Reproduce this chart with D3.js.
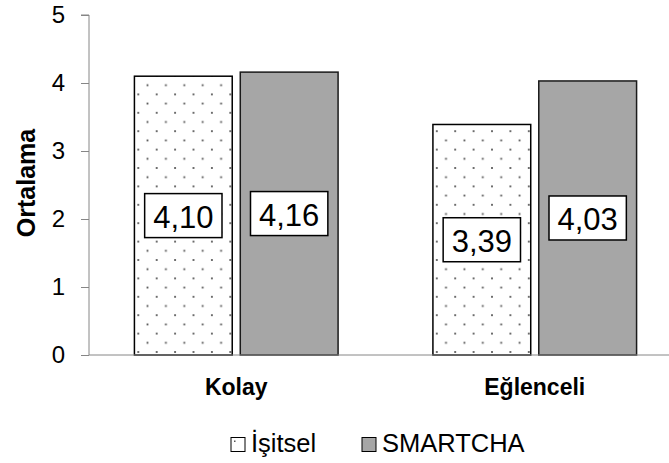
<!DOCTYPE html>
<html>
<head>
<meta charset="utf-8">
<script src="https://cdn.jsdelivr.net/npm/d3@7"></script>
<style>
  html, body { margin: 0; padding: 0; background: #fff; }
  svg { display: block; font-family: "Liberation Sans", Arial, sans-serif; }
</style>
</head>
<body>
<svg id="chart" width="669" height="463"></svg>
<script>
// Chart data
const categories = ["Kolay", "Eğlenceli"];
const seriesNames = ["İşitsel", "SMARTCHA"];
const isitselValues = [4.10, 3.39];
const smartchaValues = [4.16, 4.03];
const yTicks = [0, 1, 2, 3, 4, 5];
const yLabel = "Ortalama";

const series = [isitselValues, smartchaValues];
const rows = categories.map((c, i) => ({
  category: c,
  values: series.map((vals, s) => ({ series: seriesNames[s], value: vals[i] }))
}));

const svg = d3.select("#chart");
const plotLeft = 89, plotTop = 15, plotBottom = 355, bandRight = 684;

const x0 = d3.scaleBand().domain(categories).range([plotLeft - 2, bandRight]).paddingInner(0).paddingOuter(0);
const x1 = d3.scaleBand().domain(seriesNames).range([0, x0.bandwidth()]).paddingInner(0.076).paddingOuter(0.448);
const y = d3.scaleLinear().domain([0, 5]).range([plotBottom, plotTop]);

// Dotted fill for the first series
const defs = svg.append("defs");
const pat = defs.append("pattern")
  .attr("id", "dots").attr("patternUnits", "userSpaceOnUse")
  .attr("width", 18.4).attr("height", 18.4)
  .attr("x", 143.3).attr("y", 76);
pat.append("rect").attr("width", 18.4).attr("height", 18.4).attr("fill", "#fff");
[[0, 0], [9.2, 9.2], [18.4, 18.4], [18.4, 0], [0, 18.4]].forEach(([cx, cy]) => {
  pat.append("rect").attr("x", cx - 0.9).attr("y", cy - 0.9)
    .attr("width", 1.8).attr("height", 1.8).attr("fill", "#555");
});

const fills = { "İşitsel": "url(#dots)", "SMARTCHA": "#a6a6a6" };

// Y axis
const yAxis = svg.append("g").attr("transform", `translate(${plotLeft},0)`)
  .call(d3.axisLeft(y).tickValues(yTicks).tickSize(8).tickPadding(16).tickFormat(d3.format("d")));
yAxis.selectAll(".tick line").attr("stroke", "#868686");
yAxis.selectAll(".tick text").attr("font-size", 24).attr("fill", "#000")
  .attr("font-family", "Liberation Sans, Arial, sans-serif");
yAxis.select(".domain").attr("stroke", "#868686").attr("stroke-width", 1)
  .attr("d", `M-8,${plotTop}H0V${plotBottom}`);

// Bars
const groups = svg.append("g").selectAll("g").data(rows).join("g")
  .attr("transform", d => `translate(${x0(d.category)},0)`);

groups.selectAll("rect").data(d => d.values).join("rect")
  .attr("x", d => x1(d.series))
  .attr("y", d => y(d.value))
  .attr("width", x1.bandwidth())
  .attr("height", d => y(0) - y(d.value))
  .attr("fill", d => fills[d.series])
  .attr("stroke", d => d.series === "SMARTCHA" ? "#1a1a1a" : "#000")
  .attr("stroke-width", 1.5);

// X axis baseline
svg.append("line").attr("x1", plotLeft).attr("x2", 669).attr("y1", plotBottom).attr("y2", plotBottom)
  .attr("stroke", "#868686").attr("stroke-width", 1);

// Value labels in boxes, centred on each bar
const fmt = v => v.toFixed(2).replace(".", ",");
const labels = groups.selectAll("g.lbl").data(d => d.values).join("g").attr("class", "lbl")
  .attr("transform", d => `translate(${x1(d.series) + x1.bandwidth() / 2},${(y(d.value) + y(0)) / 2})`);
const boxes = labels.append("rect").attr("y", -22).attr("height", 44)
  .attr("fill", "#fff").attr("stroke", "#000").attr("stroke-width", 1.5);
const valueText = labels.append("text").attr("text-anchor", "middle").attr("dy", "0.4em")
  .attr("font-size", 31).attr("fill", "#000").text(d => fmt(d.value));
valueText.each(function () {
  const w = this.getComputedTextLength() + 17;
  d3.select(this.previousSibling).attr("x", -w / 2).attr("width", w);
});

// Category labels
svg.append("g").selectAll("text").data(categories).join("text")
  .attr("x", d => x0(d) + x0.bandwidth() / 2)
  .attr("y", 395).attr("text-anchor", "middle")
  .attr("font-size", 23).attr("font-weight", "bold").text(d => d);

// Y axis title
svg.append("text").attr("transform", "translate(35,183) rotate(-90)")
  .attr("text-anchor", "middle").attr("font-size", 25).attr("font-weight", "bold").text(yLabel);

// Legend
const legendItems = [
  { name: seriesNames[0], x: 231 },
  { name: seriesNames[1], x: 362 }
];
const lg = svg.append("g").selectAll("g").data(legendItems).join("g")
  .attr("transform", d => `translate(${d.x},437.5)`);
lg.append("rect").attr("width", 14).attr("height", 14)
  .attr("fill", d => d.name === "SMARTCHA" ? "#a6a6a6" : "#fff")
  .attr("stroke", "#000").attr("stroke-width", 1);
lg.filter(d => d.name !== "SMARTCHA").append("rect")
  .attr("x", 3).attr("y", 3).attr("width", 1.5).attr("height", 1.5).attr("fill", "#555");
lg.append("text").attr("x", 20).attr("y", 14.5).attr("font-size", 25.5).attr("fill", "#000").text(d => d.name);
</script>
</body>
</html>
